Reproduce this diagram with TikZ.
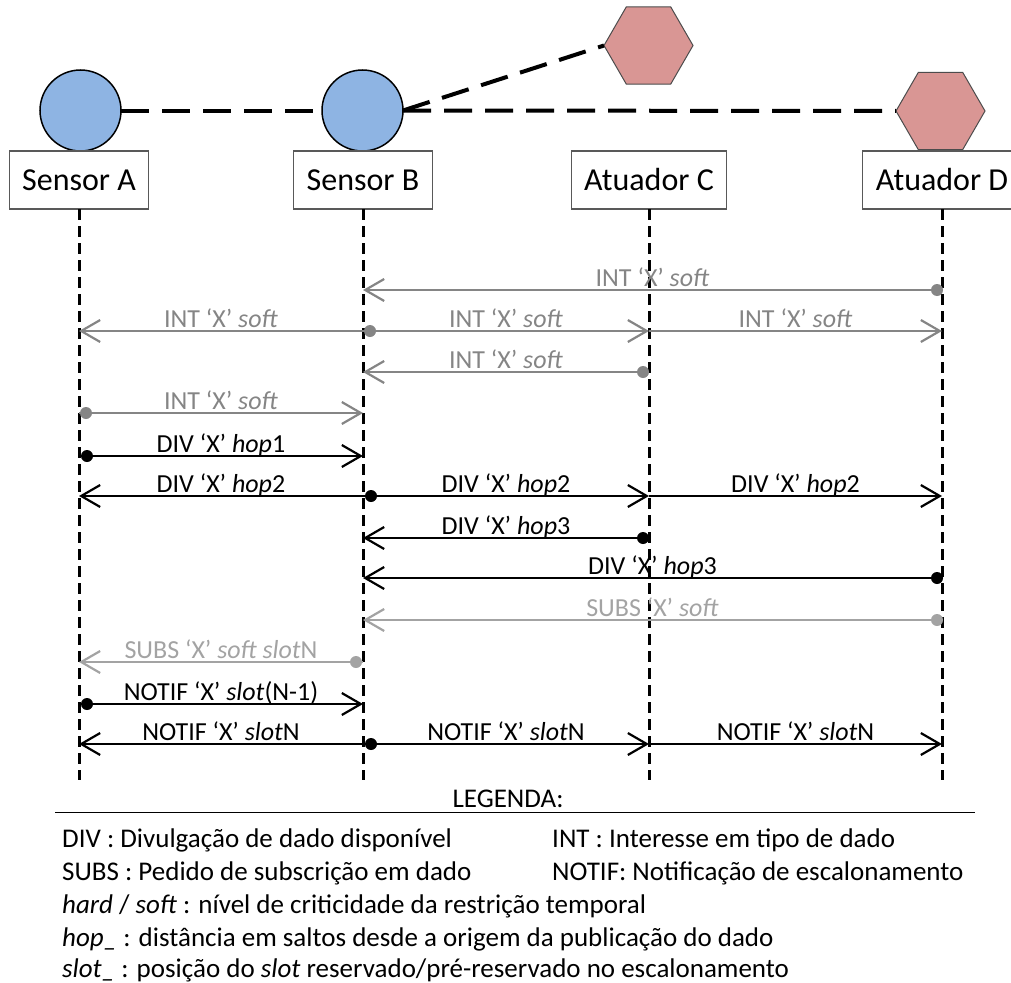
\documentclass[tikz,border=0pt]{standalone}
\usepackage{fontspec}
\setmainfont{Carlito}
\usetikzlibrary{shapes.geometric,arrows.meta}
\definecolor{nodeblue}{HTML}{8EB4E3}
\definecolor{actpink}{HTML}{D99694}
\definecolor{intgray}{HTML}{858585}
\definecolor{subgray}{HTML}{A3A3A3}
\begin{document}
\begin{tikzpicture}[x=1pt, y=-1pt,
    sensor/.style={circle, draw=black, line width=1.5pt, fill=nodeblue, minimum size=81pt, inner sep=0pt, outer sep=0pt},
    actuator/.style={regular polygon, regular polygon sides=6, draw=black!70, line width=1pt, fill=actpink, minimum size=89pt, inner sep=0pt, outer sep=0pt},
    namebox/.style={draw=black!65, line width=1.2pt, fill=white, minimum height=58pt, inner xsep=13pt, outer sep=0pt, font=\fontsize{32}{38}\selectfont},
    link/.style={line width=4pt, dash pattern=on 28pt off 13pt},
    lifeline/.style={line width=3pt, dash pattern=on 11pt off 6pt},
    msg/.style={line width=2.2pt, -{Straight Barb[length=19pt, width=22pt]}},
    divm/.style={msg, color=black},
    intm/.style={msg, color=intgray},
    subm/.style={msg, color=subgray},
    lbl/.style={midway, anchor=base, yshift=4pt, inner sep=0pt, font=\fontsize{26}{30}\selectfont},
    legend/.style={anchor=base west, inner sep=0pt, font=\fontsize{27}{32}\selectfont}]
    \useasboundingbox (0,0) rectangle (1011,982);
    \clip (0,0) rectangle (1011,982);
    % nodes of the network
    \node[sensor] (ca) at (80.5,110.5) {};
    \node[sensor] (cb) at (362.5,110.5) {};
    \node[actuator] (hc) at (648.5,45.5) {};
    \node[actuator] (hd) at (940.5,111) {};
    \draw[link] (ca) -- (cb);
    \draw[link] (cb) -- (hd);
    \draw[link] (cb.east) -- (hc.west);
    % participants and lifelines
    \node[namebox] (sa) at (79,180) {Sensor A};
    \node[namebox] (sb) at (363,180) {Sensor B};
    \node[namebox] (ac) at (649,180) {Atuador C};
    \node[namebox] (ad) at (942,180) {Atuador D};
    \coordinate (ea) at (79,780); \coordinate (eb) at (363,780);
    \coordinate (ec) at (649,780); \coordinate (ed) at (942,780);
    \draw[lifeline] (sa.south) -- (ea);
    \draw[lifeline] (sb.south) -- (eb);
    \draw[lifeline] (ac.south) -- (ec);
    \draw[lifeline] (ad.south) -- (ed);
    % message rows
    \foreach \r/\y in {1/290, 2/331, 3/372, 4/413, 5/456, 6/496, 7/538, 8/578, 9/620, 10/662, 11/704, 12/744} {
        \coordinate (a\r) at (79,\y); \coordinate (b\r) at (363,\y);
        \coordinate (c\r) at (649,\y); \coordinate (d\r) at (942,\y);
    }
    % INT
    \draw[intm] (d1) -- (b1) node[lbl] {INT ‘X’ \textit{soft}};
    \fill[intgray] ([xshift=-5pt]d1) circle (6pt);
    \draw[intm] (b2) -- (a2) node[lbl] {INT ‘X’ \textit{soft}};
    \draw[intm] (b2) -- (c2) node[lbl] {INT ‘X’ \textit{soft}};
    \draw[intm] (c2) -- (d2) node[lbl] {INT ‘X’ \textit{soft}};
    \fill[intgray] ([xshift=7pt]b2) circle (6pt);
    \draw[intm] (c3) -- (b3) node[lbl] {INT ‘X’ \textit{soft}};
    \fill[intgray] ([xshift=-6pt]c3) circle (6pt);
    \draw[intm] (a4) -- (b4) node[lbl] {INT ‘X’ \textit{soft}};
    \fill[intgray] ([xshift=7pt]a4) circle (6pt);
    % DIV
    \draw[divm] (a5) -- (b5) node[lbl] {DIV ‘X’ \textit{hop}1};
    \fill ([xshift=8pt]a5) circle (6pt);
    \draw[divm] (b6) -- (a6) node[lbl] {DIV ‘X’ \textit{hop}2};
    \draw[divm] (b6) -- (c6) node[lbl] {DIV ‘X’ \textit{hop}2};
    \draw[divm] (c6) -- (d6) node[lbl] {DIV ‘X’ \textit{hop}2};
    \fill ([xshift=8pt]b6) circle (6pt);
    \draw[divm] (c7) -- (b7) node[lbl] {DIV ‘X’ \textit{hop}3};
    \fill ([xshift=-6pt]c7) circle (6pt);
    \draw[divm] (d8) -- (b8) node[lbl] {DIV ‘X’ \textit{hop}3};
    \fill ([xshift=-5pt]d8) circle (6pt);
    % SUBS
    \draw[subm] (d9) -- (b9) node[lbl] {SUBS ‘X’ \textit{soft}};
    \fill[subgray] ([xshift=-5pt]d9) circle (6pt);
    \draw[subm] (b10) -- (a10) node[lbl] {SUBS ‘X’ \textit{soft slot}N};
    \fill[subgray] ([xshift=-7pt]b10) circle (6pt);
    % NOTIF
    \draw[divm] (a11) -- (b11) node[lbl] {NOTIF ‘X’ \textit{slot}(N-1)};
    \fill ([xshift=8pt]a11) circle (6pt);
    \draw[divm] (b12) -- (a12) node[lbl] {NOTIF ‘X’ \textit{slot}N};
    \draw[divm] (b12) -- (c12) node[lbl] {NOTIF ‘X’ \textit{slot}N};
    \draw[divm] (c12) -- (d12) node[lbl] {NOTIF ‘X’ \textit{slot}N};
    \fill ([xshift=8pt]b12) circle (6pt);
    % legend
    \node[legend, anchor=base] (lg) at (508,807) {LEGENDA:};
    \coordinate (rl) at (55,812); \coordinate (rr) at (975,812);
    \draw[line width=1pt] (rl) -- (rr);
    \node[legend] (l1) at (62,847) {DIV : Divulgação de dado disponível};
    \node[legend] (l2) at (552,847) {INT : Interesse em tipo de dado};
    \node[legend] (l3) at (62,880) {SUBS : Pedido de subscrição em dado};
    \node[legend] (l4) at (552,880) {NOTIF: Notificação de escalonamento};
    \node[legend] (l5) at (62,913) {\textit{hard} / \textit{soft} : nível de criticidade da restrição temporal};
    \node[legend] (l6) at (62,946) {\textit{hop\_} : distância em saltos desde a origem da publicação do dado};
    \node[legend] (l7) at (62,977) {\textit{slot\_} : posição do \textit{slot} reservado/pré-reservado no escalonamento};
\end{tikzpicture}
\end{document}
